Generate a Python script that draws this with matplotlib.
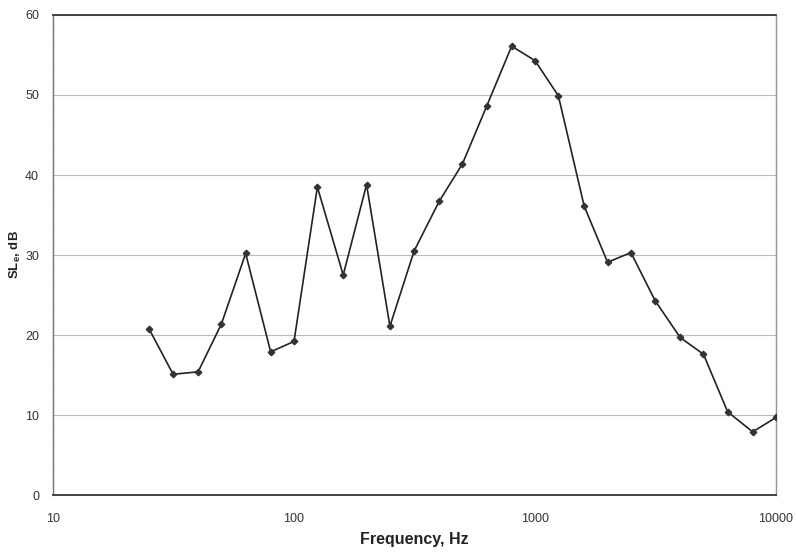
import matplotlib
matplotlib.use("Agg")
import matplotlib.pyplot as plt
from matplotlib.ticker import FixedLocator, FixedFormatter, NullLocator

freqs = [25, 31.5, 40, 50, 63, 80, 100, 125, 160, 200, 250, 315, 400, 500, 630,
         800, 1000, 1250, 1600, 2000, 2500, 3150, 4000, 5000, 6300, 8000, 10000]
sl_db = [20.8, 15.1, 15.4, 21.4, 30.2, 17.9, 19.2, 38.5, 27.5, 38.8, 21.1, 30.5,
         36.7, 41.4, 48.6, 56.1, 54.3, 49.9, 36.1, 29.1, 30.3, 24.3, 19.7, 17.6,
         10.4, 7.9, 9.7]
x_ticks = [10, 100, 1000, 10000]
x_tick_labels = ["10", "100", "1000", "10000"]
y_ticks = [0, 10, 20, 30, 40, 50, 60]

plt.rcParams['font.family'] = ['Liberation Sans', 'DejaVu Sans']

fig = plt.figure(figsize=(7.96, 5.55), dpi=100)
ax = fig.add_axes([0.0666, 0.108, 0.9083, 0.865])

ax.plot(freqs, sl_db, color='#222222', lw=1.2, marker='D', ms=3.3,
        mfc='#333333', mec='#333333', zorder=3)

ax.set_xscale('log')
ax.set_xlim(10, 10000)
ax.set_ylim(0, 60)
ax.xaxis.set_major_locator(FixedLocator(x_ticks))
ax.xaxis.set_major_formatter(FixedFormatter(x_tick_labels))
ax.xaxis.set_minor_locator(NullLocator())
ax.set_yticks(y_ticks)

ax.grid(axis='y', color='#bbbbbb', lw=0.8)
ax.tick_params(axis='both', length=0, labelsize=9, colors='#333333')
ax.tick_params(axis='x', pad=13)
ax.tick_params(axis='y', pad=10)

ax.spines['top'].set_color('#333333')
ax.spines['top'].set_linewidth(1.3)
ax.spines['bottom'].set_color('#333333')
ax.spines['bottom'].set_linewidth(1.3)
ax.spines['left'].set_color('#777777')
ax.spines['left'].set_linewidth(1.0)
ax.spines['left'].set_linestyle((0, (1, 0.6)))
ax.spines['right'].set_color('#999999')
ax.spines['right'].set_linewidth(1.0)
ax.spines['right'].set_linestyle((0, (1, 0.6)))

ax.set_xlabel("Frequency, Hz", fontsize=11.5, fontweight='bold', color='#222222', labelpad=5)
ax.set_ylabel(r"SL$_\mathregular{e}$, dB", fontsize=9.5, fontweight='bold', color='#222222')
ax.yaxis.set_label_coords(-0.041, 0.5)

fig.savefig("out.png", dpi=100)
